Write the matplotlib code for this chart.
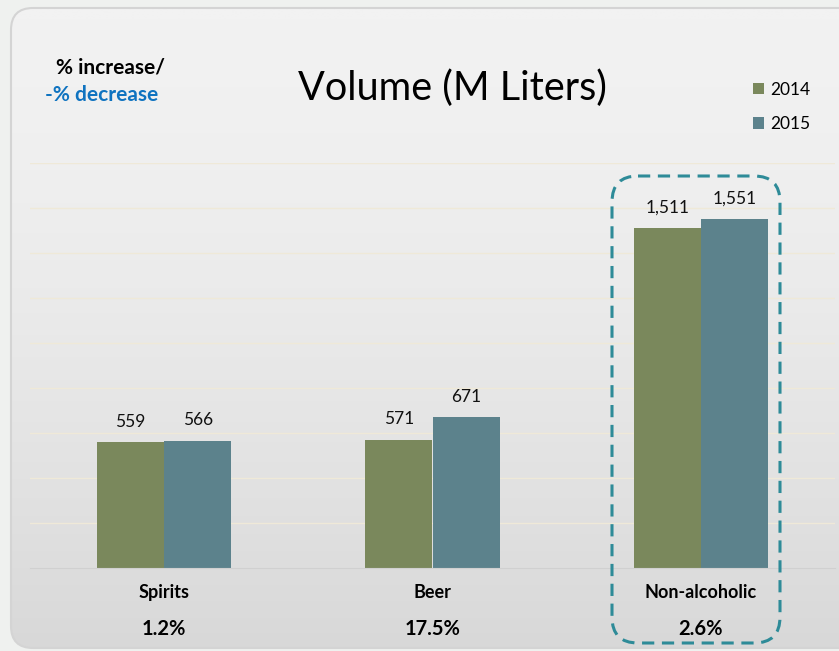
import numpy as np
import matplotlib.pyplot as plt
from matplotlib.patches import FancyBboxPatch

plt.rcParams['font.family'] = ['Lato', 'DejaVu Sans']

categories = ["Spirits", "Beer", "Non-alcoholic"]
years = ["2014", "2015"]
vol_2014 = [559, 571, 1511]
vol_2015 = [566, 671, 1551]
pct_change = ["1.2%", "17.5%", "2.6%"]

C_2014 = "#7a885c"
C_2015 = "#5c828c"
W, H = 839, 651

fig = plt.figure(figsize=(W / 100, H / 100), dpi=100, facecolor="#eff1ef")

# panel background: rounded card with a soft vertical gradient
bg = fig.add_axes([0, 0, 1, 1], zorder=0)
bg.set_xlim(0, W)
bg.set_ylim(H, 0)
bg.axis("off")
card = FancyBboxPatch((11, 8), W + 40, H - 11, boxstyle="round,pad=0,rounding_size=22",
                      facecolor="none", edgecolor="#d4d4d4", linewidth=1.5)
bg.add_patch(card)
grad = np.linspace(0, 1, 256) ** 1.6
grad = np.vstack([grad, grad]).T
img = bg.imshow(grad, extent=[0, W, H, 0], aspect="auto",
                cmap=plt.matplotlib.colors.LinearSegmentedColormap.from_list(
                    "card", ["#f2f2f2", "#d8d8d8"]), interpolation="bilinear")
img.set_clip_path(card)

ax = fig.add_axes([30 / W, (H - 568) / H, 805 / W, 405 / H], zorder=1)
ax.patch.set_alpha(0)
x = np.arange(len(categories))
bw = 0.25
b1 = ax.bar(x - bw / 2, vol_2014, bw, color=C_2014, label=years[0])
b2 = ax.bar(x + bw / 2, vol_2015, bw, color=C_2015, label=years[1])
for bars, vals in ((b1, vol_2014), (b2, vol_2015)):
    for b, v in zip(bars, vals):
        ax.text(b.get_x() + b.get_width() / 2, v + 55, f"{v:,}",
                ha="center", va="bottom", fontsize=12.5, color="#111111")

ax.set_xlim(-0.5, 2.5)
ax.set_ylim(0, 1800)
ax.set_yticks(np.arange(200, 1801, 200))
ax.yaxis.grid(True, color="#efe9d8", linewidth=1)
ax.set_axisbelow(True)
for s in ("top", "right", "left"):
    ax.spines[s].set_visible(False)
ax.spines["bottom"].set_color("#d0d0d0")
ax.tick_params(left=False, labelleft=False, bottom=False)
ax.set_xticks(x)
ax.set_xticklabels(categories, fontsize=13, fontweight="bold")
ax.tick_params(axis="x", pad=8)
for xi, p in zip(x, pct_change):
    ax.text(xi, -0.151, p, transform=ax.get_xaxis_transform(), ha="center",
            va="center", fontsize=14.5, fontweight="bold")

ax.legend(loc="upper left", bbox_to_anchor=(737 / W, 1 - 66 / H), bbox_transform=fig.transFigure,
          frameon=False, fontsize=12.5, handlelength=0.65, handleheight=0.65,
          handletextpad=0.35, labelspacing=1.05)

fig.text(452 / W, 1 - 88 / H, "Volume (M Liters)", ha="center", va="center", fontsize=28.5)
fig.text(110 / W, 1 - 68 / H, "% increase/", ha="center", va="center",
         fontsize=15, fontweight="bold")
fig.text(102 / W, 1 - 95 / H, "-% decrease", ha="center", va="center",
         fontsize=15, fontweight="bold", color="#0f73c0")

# dashed callout around the non-alcoholic group
top = fig.add_axes([0, 0, 1, 1], zorder=2)
top.set_xlim(0, W)
top.set_ylim(H, 0)
top.axis("off")
top.add_patch(FancyBboxPatch((612, 176), 168, 467, boxstyle="round,pad=0,rounding_size=26",
                             facecolor="none", edgecolor="#2e8b98", linewidth=2.2,
                             linestyle=(0, (4, 2.5))))

fig.savefig("out.png", dpi=100, facecolor=fig.get_facecolor())
